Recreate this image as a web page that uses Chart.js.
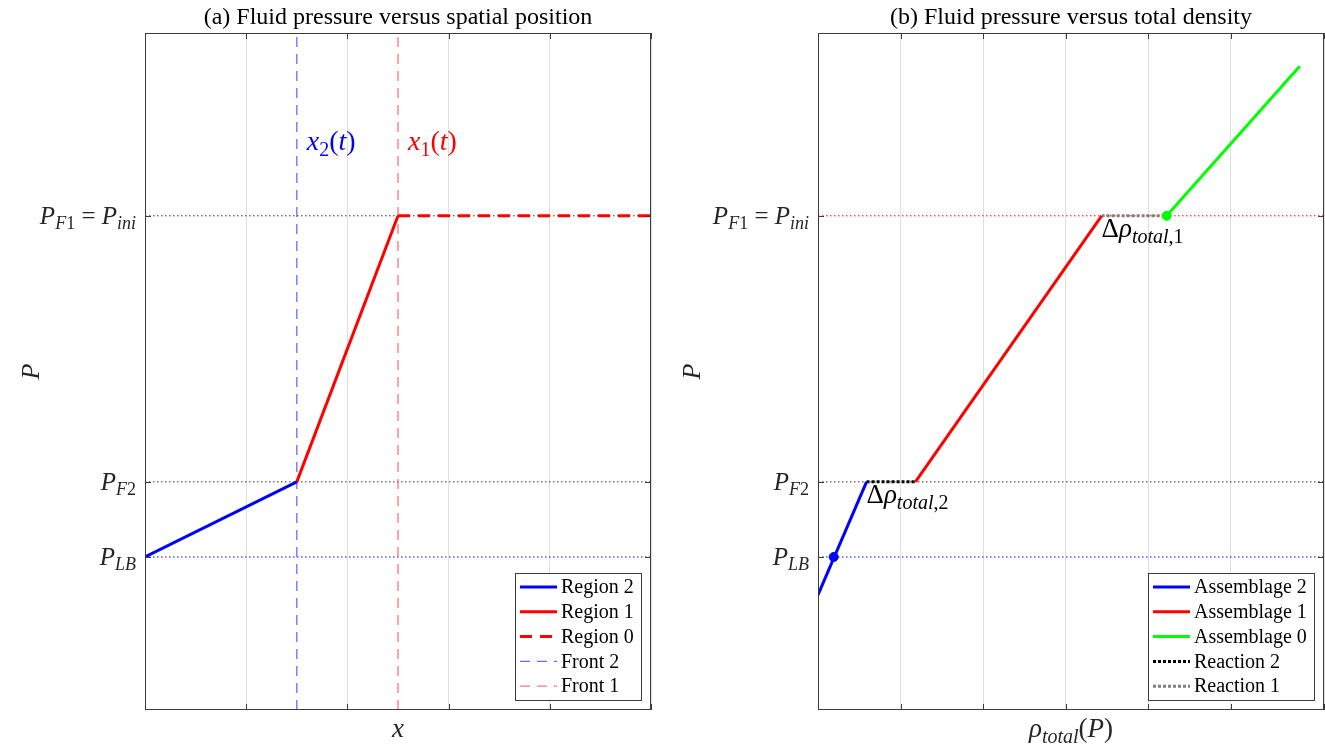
<!DOCTYPE html>
<html>
<head>
<meta charset="utf-8">
<script src="https://cdn.jsdelivr.net/npm/chart.js@4.4.0/dist/chart.umd.min.js"></script>
<style>
  html, body { margin: 0; padding: 0; background: #fff; overflow: hidden; }
  #wrap { position: relative; width: 1325px; height: 747px; }
  canvas { position: absolute; top: 0; }
  #panelA { left: 0; }
  #panelB { left: 662px; }
</style>
</head>
<body>
<div id="wrap">
  <canvas id="panelA" width="662" height="747"></canvas>
  <canvas id="panelB" width="663" height="747"></canvas>
</div>
<script>
// ---- pressure levels (normalised pressure axis, 0..1) ----
const P_LB = 0.226;
const P_F2 = 0.337;
const P_F1 = 0.730;
const pressureTicks = [P_LB, P_F2, P_F1];

// ---- panel (a): pressure versus position x (0..1) ----
const xTicks = [0, 0.2, 0.4, 0.6, 0.8, 1];
const frontX = [0.3, 0.5];             // x2(t), x1(t)
const frontLabelP = 0.84;
const region2X = [0, 0.3];
const region2P = [P_LB, P_F2];
const region1X = [0.3, 0.5];
const region1P = [P_F2, P_F1];
const region0X = [0.5, 1];
const region0P = [P_F1, P_F1];

// ---- panel (b): pressure versus total density ----
const rhoMax = 6.13;
const rhoStep = 1;
const assemblage2Rho = [0, 0.588];
const assemblage2P = [0.170, P_F2];
const reaction2Rho = [0.588, 1.18];
const reaction2P = [P_F2, P_F2];
const assemblage1Rho = [1.18, 3.436];
const assemblage1P = [P_F2, P_F1];
const reaction1Rho = [3.436, 4.224];
const reaction1P = [P_F1, P_F1];
const assemblage0Rho = [4.224, 5.836];
const assemblage0P = [P_F1, 0.951];
const boundaryPointRho = [0.19];      // where assemblage 2 meets P_LB
const boundaryPointP = [P_LB];
const initialPointRho = [4.224];      // start of assemblage 0
const initialPointP = [P_F1];

const SERIF = '"Liberation Serif", "Times New Roman", serif';

function pts(xs, ys) { return xs.map((x, i) => ({ x: x, y: ys[i] })); }

// ---- math-like text: runs of {t, it, sub} ----
function runFont(r, size, subSize) {
  const s = r.sub ? subSize : size;
  return (r.it ? 'italic ' : '') + s + 'px ' + SERIF;
}
function drawRuns(ctx, runs, x, y, align, size, subSize, color) {
  let total = 0;
  const widths = runs.map(r => { ctx.font = runFont(r, size, subSize); const w = ctx.measureText(r.t).width; total += w; return w; });
  let cx = align === 'right' ? x - total : align === 'center' ? x - total / 2 : x;
  ctx.fillStyle = color;
  ctx.textAlign = 'left';
  ctx.textBaseline = 'alphabetic';
  runs.forEach((r, i) => {
    ctx.font = runFont(r, size, subSize);
    ctx.fillText(r.t, cx, r.sub ? y + size * 0.22 : y);
    cx += widths[i];
  });
}

const tickLabelRuns = [
  [{ t: 'P', it: true }, { t: 'LB', it: true, sub: true }],
  [{ t: 'P', it: true }, { t: 'F', it: true, sub: true }, { t: '2', sub: true }],
  [{ t: 'P', it: true }, { t: 'F', it: true, sub: true }, { t: '1', sub: true }, { t: ' = ' },
   { t: 'P', it: true }, { t: 'ini', it: true, sub: true }]
];

// ---- decorations: box, ticks, labels, annotations, legend ----
function decorations(cfg) {
  return {
    id: 'decor' + cfg.key,
    afterDraw(chart) {
      const ctx = chart.ctx;
      const a = chart.chartArea;
      const xs = chart.scales.x, ys = chart.scales.y;
      ctx.save();

      // axes box
      ctx.strokeStyle = '#3c3c3c';
      ctx.lineWidth = 1;
      ctx.setLineDash([]);
      ctx.strokeRect(a.left + 0.5, a.top + 0.5, a.right - a.left - 1, a.bottom - a.top - 1);

      // inward tick marks
      const tl = 6;
      ctx.beginPath();
      xs.ticks.forEach(t => {
        const px = Math.round(xs.getPixelForValue(t.value)) + 0.5;
        ctx.moveTo(px, a.bottom); ctx.lineTo(px, a.bottom - tl);
        ctx.moveTo(px, a.top); ctx.lineTo(px, a.top + tl);
      });
      pressureTicks.forEach(v => {
        const py = Math.round(ys.getPixelForValue(v)) + 0.5;
        ctx.moveTo(a.left, py); ctx.lineTo(a.left + tl, py);
        ctx.moveTo(a.right, py); ctx.lineTo(a.right - tl, py);
      });
      ctx.stroke();

      // y tick labels
      pressureTicks.forEach((v, i) => {
        const py = ys.getPixelForValue(v);
        drawRuns(ctx, tickLabelRuns[i], a.left - 9, py + 8, 'right', 25, 18, '#262626');
      });

      // title
      ctx.font = '24px ' + SERIF;
      ctx.fillStyle = '#000';
      ctx.textAlign = 'center';
      ctx.textBaseline = 'alphabetic';
      ctx.fillText(cfg.title, (a.left + a.right) / 2, 24);

      // x axis label
      drawRuns(ctx, cfg.xLabel, (a.left + a.right) / 2, 737, 'center', 27, 20, '#262626');

      // y axis label
      ctx.save();
      ctx.translate(cfg.yLabelX, (a.top + a.bottom) / 2);
      ctx.rotate(-Math.PI / 2);
      ctx.font = 'italic 26px ' + SERIF;
      ctx.fillStyle = '#262626';
      ctx.textAlign = 'center';
      ctx.textBaseline = 'alphabetic';
      ctx.fillText('P', 0, 0);
      ctx.restore();

      // annotations
      cfg.notes.forEach(n => {
        const px = xs.getPixelForValue(n.x) + n.dx;
        const py = ys.getPixelForValue(n.y) + n.dy;
        drawRuns(ctx, n.runs, px, py, 'left', n.size, n.subSize, n.color);
      });

      // legend
      const entries = chart.data.datasets.filter(d => d.label);
      ctx.font = '20px ' + SERIF;
      let maxW = 0;
      entries.forEach(d => { maxW = Math.max(maxW, ctx.measureText(d.label).width); });
      const rowH = 24.8;
      const bw = Math.round(46 + maxW + 7);
      const bh = Math.round(entries.length * rowH + 3);
      const bx = Math.round(a.right - 10 - bw);
      const by = Math.round(a.bottom - 10 - bh);
      ctx.fillStyle = '#fff';
      ctx.fillRect(bx, by, bw, bh);
      ctx.strokeStyle = '#3c3c3c';
      ctx.lineWidth = 1;
      ctx.setLineDash([]);
      ctx.strokeRect(bx + 0.5, by + 0.5, bw, bh);
      entries.forEach((d, i) => {
        const cy = by + 14 + i * rowH;
        ctx.strokeStyle = d.borderColor;
        ctx.lineWidth = d.borderWidth;
        ctx.setLineDash(d.borderDash || []);
        ctx.beginPath();
        ctx.moveTo(bx + 5, cy); ctx.lineTo(bx + 42, cy);
        ctx.stroke();
        ctx.setLineDash([]);
        ctx.fillStyle = '#000';
        ctx.font = '20px ' + SERIF;
        ctx.textAlign = 'left';
        ctx.textBaseline = 'middle';
        ctx.fillText(d.label, bx + 46, cy + 1);
      });
      ctx.restore();
    }
  };
}

function makePanel(canvas, cfg) {
  return new Chart(canvas, {
    type: 'line',
    data: { datasets: cfg.datasets },
    options: {
      responsive: false,
      animation: false,
      devicePixelRatio: 1,
      layout: { autoPadding: false, padding: { left: 0, top: 33, right: cfg.padRight, bottom: 0 } },
      plugins: { legend: { display: false }, tooltip: { enabled: false }, title: { display: false } },
      elements: { point: { radius: 0 }, line: { tension: 0 } },
      scales: {
        x: {
          type: 'linear', min: 0, max: cfg.xMax,
          ticks: { display: false, stepSize: cfg.xStep },
          grid: { color: '#dfdfdf', lineWidth: 1, drawTicks: false },
          border: { display: false },
          afterFit(s) { s.height = 37; s.paddingLeft = 0; s.paddingRight = 0; }
        },
        y: {
          type: 'linear', min: 0, max: 1,
          ticks: { display: false },
          grid: { display: false },
          border: { display: false },
          afterFit(s) { s.width = cfg.axisWidth; s.paddingTop = 0; s.paddingBottom = 0; }
        }
      }
    },
    plugins: [decorations(cfg)]
  });
}

function solid(label, xs, ys, color, width) {
  return { label: label, data: pts(xs, ys), borderColor: color, borderWidth: width, showLine: true, fill: false, pointRadius: 0 };
}
function dashed(label, xs, ys, color, width, dash) {
  const d = solid(label, xs, ys, color, width); d.borderDash = dash; return d;
}

// panel (a)
makePanel(document.getElementById('panelA'), {
  key: 'A',
  title: '(a) Fluid pressure versus spatial position',
  xLabel: [{ t: 'x', it: true }],
  yLabelX: 39,
  axisWidth: 145,
  padRight: 11,
  xMax: 1,
  xStep: 0.2,
  notes: [
    { x: frontX[0], y: frontLabelP, dx: 10, dy: 9, size: 28, subSize: 20, color: '#0000ff',
      runs: [{ t: 'x', it: true }, { t: '2', sub: true }, { t: '(' }, { t: 't', it: true }, { t: ')' }] },
    { x: frontX[1], y: frontLabelP, dx: 10, dy: 9, size: 28, subSize: 20, color: '#ff0000',
      runs: [{ t: 'x', it: true }, { t: '1', sub: true }, { t: '(' }, { t: 't', it: true }, { t: ')' }] }
  ],
  datasets: [
    solid('Region 2', region2X, region2P, '#0000ff', 3),
    solid('Region 1', region1X, region1P, '#ff0000', 3),
    dashed('Region 0', region0X, region0P, '#ff0000', 3, [12, 8]),
    dashed('Front 2', [frontX[0], frontX[0]], [0, 1], 'rgba(70,70,255,0.8)', 1.3, [10, 7]),
    dashed('Front 1', [frontX[1], frontX[1]], [0, 1], 'rgba(255,80,80,0.8)', 1.3, [10, 7]),
    dashed(null, [0, 1], [P_F1, P_F1], '#333333', 1, [1.5, 2.5]),
    dashed(null, [0, 1], [P_F2, P_F2], '#333333', 1, [1.5, 2.5]),
    dashed(null, [0, 1], [P_LB, P_LB], '#0000ff', 1, [1.5, 2.5])
  ]
});

// panel (b)
const markerA2 = { data: pts(boundaryPointRho, boundaryPointP), showLine: false, pointRadius: 4.5, pointBackgroundColor: '#0000ff', pointBorderColor: '#0000ff', borderColor: '#0000ff' };
const markerA0 = { data: pts(initialPointRho, initialPointP), showLine: false, pointRadius: 4.5, pointBackgroundColor: '#00ff00', pointBorderColor: '#00ff00', borderColor: '#00ff00' };

makePanel(document.getElementById('panelB'), {
  key: 'B',
  title: '(b) Fluid pressure versus total density',
  xLabel: [{ t: 'ρ', it: true }, { t: 'total', it: true, sub: true }, { t: '(' }, { t: 'P', it: true }, { t: ')' }],
  yLabelX: 38,
  axisWidth: 156,
  padRight: 1,
  xMax: rhoMax,
  xStep: rhoStep,
  notes: [
    { x: reaction2Rho[0], y: P_F2, dx: 0, dy: 21, size: 27, subSize: 20, color: '#000',
      runs: [{ t: 'Δ' }, { t: 'ρ', it: true }, { t: 'total', it: true, sub: true }, { t: ',2', sub: true }] },
    { x: reaction1Rho[0], y: P_F1, dx: 0, dy: 21, size: 27, subSize: 20, color: '#000',
      runs: [{ t: 'Δ' }, { t: 'ρ', it: true }, { t: 'total', it: true, sub: true }, { t: ',1', sub: true }] }
  ],
  datasets: [
    markerA2,
    markerA0,
    solid('Assemblage 2', assemblage2Rho, assemblage2P, '#0000ff', 3),
    solid('Assemblage 1', assemblage1Rho, assemblage1P, '#ff0000', 3),
    solid('Assemblage 0', assemblage0Rho, assemblage0P, '#00ff00', 3),
    dashed('Reaction 2', reaction2Rho, reaction2P, '#000000', 3, [3, 2]),
    dashed('Reaction 1', reaction1Rho, reaction1P, '#808080', 3, [3, 2]),
    dashed(null, [0, rhoMax], [P_F1, P_F1], '#ff0000', 1, [1.5, 2.5]),
    dashed(null, [0, rhoMax], [P_F2, P_F2], '#333333', 1, [1.5, 2.5]),
    dashed(null, [0, rhoMax], [P_LB, P_LB], '#0000ff', 1, [1.5, 2.5])
  ]
});
</script>
</body>
</html>
